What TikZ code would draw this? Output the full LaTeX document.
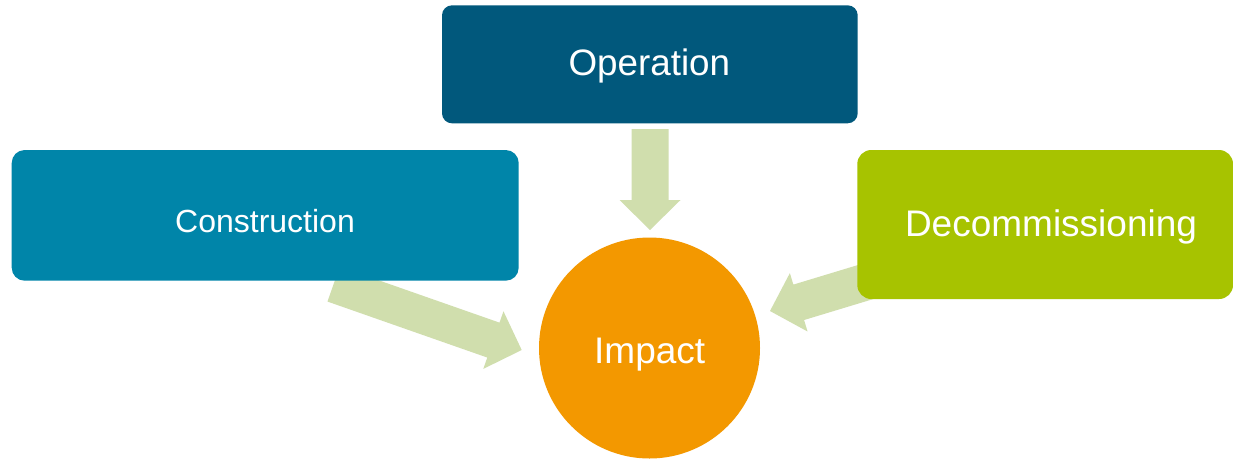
\documentclass[tikz,border=0pt]{standalone}
\usepackage{fontspec}
\setmainfont{Liberation Sans}
\usetikzlibrary{calc}

\definecolor{opblue}{HTML}{01587C}
\definecolor{conblue}{HTML}{0085A9}
\definecolor{decgreen}{HTML}{A7C300}
\definecolor{impactorange}{HTML}{F39800}
\definecolor{flowgreen}{HTML}{D0DEAD}

\tikzset{
  phasebox/.style={rectangle, inner sep=0pt, draw=none},
  phaselabel/.style={text=white, anchor=base, inner sep=0pt},
  flowarrow/.style={fill=flowgreen, draw=none},
}

% wide block arrow: tail coordinate #1, tip coordinate #2, helper name #3
\newcommand\blockarrow[3]{%
  \coordinate (#3) at ($(#2)!30pt!(#1)$);
  \path[flowarrow]
    ($(#1)!18.5pt!90:(#2)$) -- ($(#3)!18.5pt!90:(#2)$) --
    ($(#3)!30.5pt!90:(#2)$) -- (#2) --
    ($(#3)!30.5pt!-90:(#2)$) -- ($(#3)!18.5pt!-90:(#2)$) --
    ($(#1)!18.5pt!-90:(#2)$) -- cycle;
}

\begin{document}
\begin{tikzpicture}[x=1pt, y=-1pt]
  \useasboundingbox (0,0) rectangle (1233,459);
  \clip (0,0) rectangle (1233,459);
  \fill[white] (0,0) rectangle (1233,459);

  % arrow end points
  \coordinate (optail) at (650,129);
  \coordinate (optip) at (650,230);
  \coordinate (contail) at (333.6,284.1);
  \coordinate (contip) at (521.7,350);
  \coordinate (dectail) at (961.4,253);
  \coordinate (dectip) at (770,311);

  % arrows go underneath the boxes
  \blockarrow{optail}{optip}{ophead}
  \blockarrow{contail}{contip}{conhead}
  \blockarrow{dectail}{dectip}{dechead}

  % phase boxes
  \node[phasebox, fill=opblue, rounded corners=10pt,
        minimum width=415.7pt, minimum height=118pt] (opbox) at (649.85,64.3) {};
  \node[phasebox, fill=conblue, rounded corners=13pt,
        minimum width=507pt, minimum height=130.7pt] (conbox) at (265.2,215.35) {};
  \node[phasebox, fill=decgreen, rounded corners=14pt,
        minimum width=375.7pt, minimum height=149pt] (decbox) at (1045.15,224.5) {};

  % impact circle
  \node[circle, fill=impactorange, inner sep=0pt, minimum size=221pt] (impact) at (649.5,348) {};

  % labels
  \node[phaselabel, font=\fontsize{36.8pt}{41pt}\selectfont] (oplabel) at (649.3,75) {Operation};
  \node[phaselabel, font=\fontsize{32pt}{36pt}\selectfont] (conlabel) at (265,232.7) {Construction};
  \node[phaselabel, font=\fontsize{37pt}{41pt}\selectfont] (declabel) at (1051,236.3) {Decommissioning};
  \node[phaselabel, font=\fontsize{37pt}{41pt}\selectfont] (impactlabel) at (649.7,363.3) {Impact};
\end{tikzpicture}
\end{document}
